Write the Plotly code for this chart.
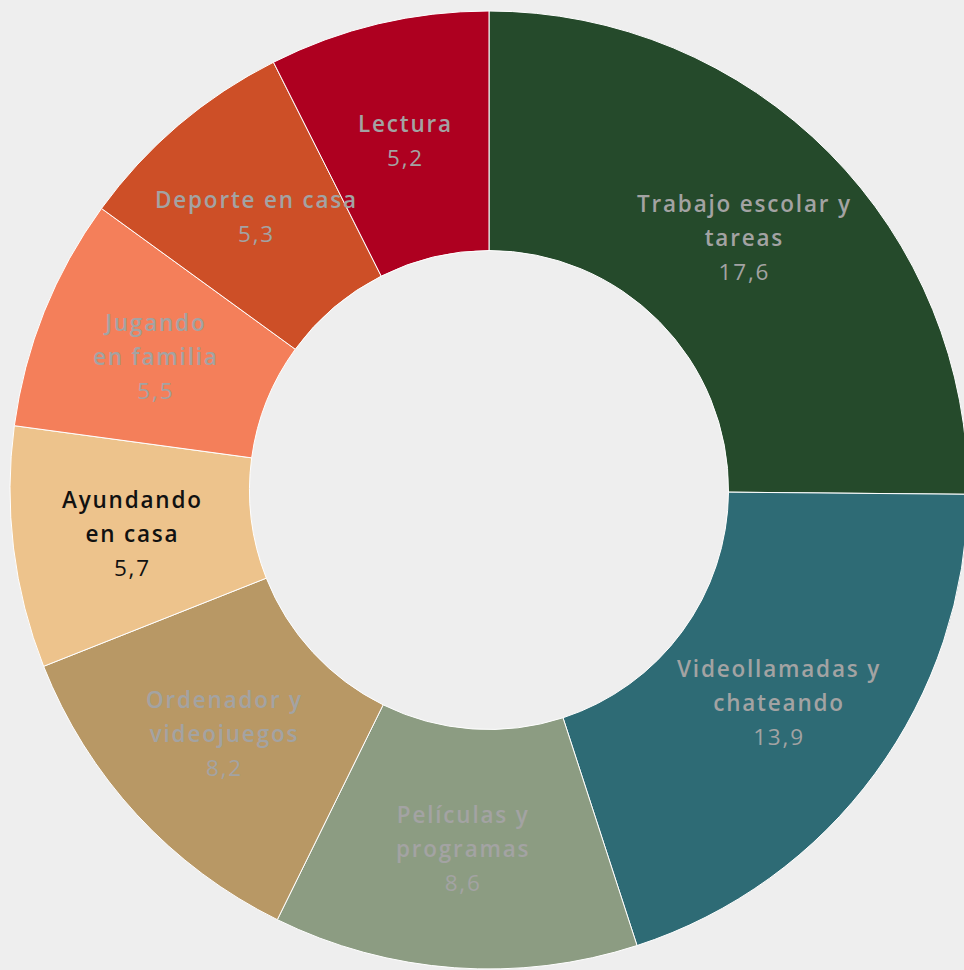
import math
import plotly.graph_objects as go

categories = ["Trabajo escolar y<br>tareas", "Videollamadas y<br>chateando", "Películas y<br>programas",
              "Ordenador y<br>videojuegos", "Ayundando<br>en casa", "Jugando<br>en familia",
              "Deporte en casa", "Lectura"]
values = [17.6, 13.9, 8.6, 8.2, 5.7, 5.5, 5.3, 5.2]
colors = ["#254a2b", "#2e6b75", "#8c9c82", "#b89865", "#edc38c", "#f47f5a", "#cd4f27", "#ae0020"]
text_colors = ["#a3a3a3", "#a3a3a3", "#a3a3a3", "#a3a3a3", "#111111", "#a3a3a3", "#a3a3a3", "#a3a3a3"]

W, H = 978, 970
HOLE = 0.5
dom_x = [10 / W, 968 / W]
dom_y = [1 / H, 959 / H]

fig = go.Figure(go.Pie(
    labels=categories, values=values, sort=False, direction="clockwise", rotation=0,
    hole=HOLE,
    marker=dict(colors=colors, line=dict(color="white", width=1)),
    textinfo="none", hoverinfo="label+value",
    domain=dict(x=dom_x, y=dom_y),
    showlegend=False,
))

# labels placed at the middle of each ring segment (derived from the values)
cx = (dom_x[0] + dom_x[1]) / 2 * W
cy = (dom_y[0] + dom_y[1]) / 2 * H
R = min((dom_x[1] - dom_x[0]) * W, (dom_y[1] - dom_y[0]) * H) / 2
rmid = R * (1 + HOLE) / 2
total = sum(values)
cum = 0.0
span = 'style="font-size:22.5px;letter-spacing:1.8px'
for lab, v, tc in zip(categories, values, text_colors):
    ang = (cum + v / 2) / total * 2 * math.pi
    cum += v
    px = cx + rmid * math.sin(ang)
    py = cy + rmid * math.cos(ang)
    val = f"{v:.1f}".replace(".", ",")
    lines = lab.split("<br>")
    txt = "<br>".join(f'<span {span};font-weight:600">{ln}</span>' for ln in lines)
    txt += f'<br><span {span};font-weight:400">{val}</span>'
    fig.add_annotation(
        x=px / W, y=py / H, xref="paper", yref="paper", showarrow=False,
        xanchor="center", yanchor="middle",
        text=txt,
        font=dict(family="Open Sans", size=26, color=tc),
    )

fig.update_layout(
    width=W, height=H, margin=dict(l=0, r=0, t=0, b=0),
    paper_bgcolor="#eeeeee", plot_bgcolor="#eeeeee",
    font=dict(family="Open Sans"),
)
fig.write_html("out.html", default_width=f"{W}px", default_height=f"{H}px",
               config={"displayModeBar": False},
               post_script="document.body.style.margin='0';document.body.style.overflow='hidden';")
